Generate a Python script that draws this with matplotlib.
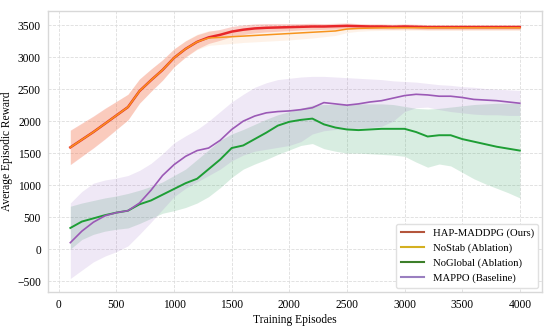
import matplotlib.pyplot as plt
import numpy as np
from matplotlib.lines import Line2D

plt.rcParams['font.family'] = ['Liberation Serif', 'DejaVu Serif']

episodes = np.arange(100, 4001, 100)

# HAP-MADDPG (Ours)
hap_mean = [1590, 1710, 1830, 1960, 2090, 2220, 2470, 2640, 2800, 2990,
            3130, 3240, 3310, 3350, 3400, 3430, 3450, 3460, 3465, 3470,
            3475, 3480, 3480, 3485, 3490, 3485, 3480, 3480, 3475, 3480,
            3475, 3470, 3470, 3470, 3470, 3470, 3470, 3470, 3470, 3470]
hap_std = [270, 260, 250, 240, 220, 200, 190, 175, 160, 140,
           125, 110, 95, 85, 80, 75, 70, 65, 60, 55,
           50, 50, 45, 45, 45, 40, 40, 40, 40, 40,
           40, 40, 40, 40, 40, 40, 40, 40, 40, 40]

# NoStab (Ablation)
nostab_mean = [1590, 1710, 1830, 1960, 2090, 2220, 2470, 2640, 2800, 2990,
               3130, 3240, 3300, 3310, 3320, 3330, 3340, 3350, 3360, 3370,
               3380, 3390, 3400, 3410, 3440, 3450, 3455, 3458, 3460, 3460,
               3460, 3460, 3460, 3460, 3460, 3460, 3460, 3460, 3460, 3460]
nostab_std = [260, 250, 240, 230, 215, 200, 185, 170, 155, 140,
              130, 120, 115, 110, 105, 100, 100, 100, 100, 100,
              95, 90, 80, 70, 55, 45, 40, 40, 40, 40,
              40, 40, 40, 40, 40, 40, 40, 40, 40, 40]

# NoGlobal (Ablation)
noglobal_mean = [330, 430, 480, 530, 570, 600, 700, 760, 850, 940,
                 1030, 1100, 1250, 1400, 1580, 1620, 1720, 1820, 1930, 1990,
                 2020, 2040, 1950, 1900, 1870, 1860, 1870, 1880, 1880, 1880,
                 1830, 1760, 1780, 1780, 1720, 1680, 1640, 1600, 1570, 1540]
noglobal_lo = [0, 150, 230, 280, 310, 330, 400, 480, 560, 600,
               650, 720, 820, 960, 1120, 1250, 1330, 1400, 1480, 1550,
               1620, 1650, 1570, 1530, 1500, 1500, 1490, 1480, 1470, 1450,
               1360, 1280, 1330, 1300, 1200, 1100, 1020, 950, 880, 800]
noglobal_hi = [670, 720, 760, 800, 830, 870, 920, 980, 1050, 1150,
               1250, 1400, 1550, 1700, 1800, 1870, 1950, 2030, 2100, 2150,
               2200, 2250, 2260, 2260, 2260, 2270, 2270, 2270, 2260, 2230,
               2200, 2190, 2200, 2220, 2240, 2260, 2270, 2280, 2280, 2280]

# MAPPO (Baseline)
mappo_mean = [100, 280, 420, 520, 570, 600, 720, 920, 1150, 1320,
              1450, 1540, 1580, 1700, 1870, 2000, 2080, 2130, 2150, 2160,
              2180, 2210, 2290, 2270, 2250, 2270, 2300, 2320, 2360, 2400,
              2420, 2410, 2390, 2390, 2370, 2340, 2330, 2320, 2300, 2280]
mappo_lo = [-460, -330, -200, -110, -40, 50, 230, 420, 620, 820,
            950, 1050, 1150, 1250, 1380, 1470, 1530, 1560, 1590, 1620,
            1680, 1800, 1850, 1870, 1880, 1890, 1900, 1920, 2000, 2150,
            2210, 2220, 2180, 2150, 2130, 2110, 2100, 2100, 2090, 2090]
mappo_hi = [720, 900, 1030, 1080, 1110, 1150, 1230, 1340, 1490, 1660,
            1770, 1870, 2000, 2150, 2300, 2420, 2530, 2600, 2650, 2670,
            2690, 2700, 2700, 2690, 2680, 2670, 2660, 2650, 2630, 2620,
            2610, 2590, 2570, 2560, 2540, 2530, 2510, 2500, 2490, 2480]

labels = ['HAP-MADDPG (Ours)', 'NoStab (Ablation)', 'NoGlobal (Ablation)', 'MAPPO (Baseline)']
line_colors = ['#e8262a', '#f7941d', '#1e9e35', '#9b59b6']
legend_colors = ['#b4553c', '#d4b020', '#3d7f2a', '#9a7fc0']

fig, ax = plt.subplots(figsize=(5.5, 3.28), dpi=100)
fig.subplots_adjust(left=0.087, right=0.986, top=0.966, bottom=0.11)

hap_mean = np.array(hap_mean)
hap_std = np.array(hap_std)
nostab_mean = np.array(nostab_mean)
nostab_std = np.array(nostab_std)

ax.fill_between(episodes, hap_mean - hap_std, hap_mean + hap_std,
                color='#ef5a48', alpha=0.28, lw=0)
ax.fill_between(episodes, nostab_mean - nostab_std, nostab_mean + nostab_std,
                color='#fdae6b', alpha=0.15, lw=0)
ax.fill_between(episodes, noglobal_lo, noglobal_hi, color='#2ca05a', alpha=0.18, lw=0)
ax.fill_between(episodes, mappo_lo, mappo_hi, color='#a070c8', alpha=0.16, lw=0)

ax.plot(episodes, hap_mean, color=line_colors[0], lw=1.8, zorder=3)
ax.plot(episodes, nostab_mean, color=line_colors[1], lw=1.1, zorder=4)
ax.plot(episodes, noglobal_mean, color=line_colors[2], lw=1.4, zorder=3)
ax.plot(episodes, mappo_mean, color=line_colors[3], lw=1.2, zorder=3)

ax.set_xlim(-95, 4195)
ax.set_ylim(-670, 3720)
ax.set_xticks(np.arange(0, 4001, 500))
ax.set_yticks(np.arange(-500, 3501, 500))
ax.tick_params(labelsize=8.3, length=0, pad=5)
ax.set_xlabel('Training Episodes', fontsize=8.3, labelpad=2)
ax.set_ylabel('Average Episodic Reward', fontsize=8.3, labelpad=3)

ax.grid(True, linestyle='--', color='#dddddd', linewidth=0.6)
ax.set_axisbelow(True)
for s in ax.spines.values():
    s.set_color('#d8d8d8')
    s.set_linewidth(1.0)

handles = [Line2D([0], [0], color=c, lw=1.5) for c in legend_colors]
leg = ax.legend(handles, labels, loc='lower right', fontsize=7.7, frameon=True,
                fancybox=True, framealpha=1.0, edgecolor='#e0e0e0',
                handlelength=2.2, borderaxespad=0.4)

plt.savefig('out.png', dpi=100)
